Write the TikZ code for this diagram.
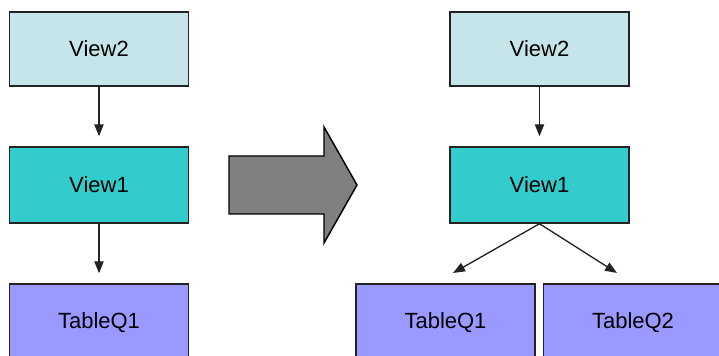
\documentclass[tikz,border=0pt]{standalone}
\usepackage{fontspec}
\setmainfont{Liberation Sans}
\usetikzlibrary{arrows.meta}
\definecolor{ViewTwoBlue}{RGB}{198,229,235}
\definecolor{ViewOneTeal}{RGB}{51,204,204}
\definecolor{TableViolet}{RGB}{153,153,255}
\definecolor{ShiftGray}{RGB}{128,128,128}
\definecolor{EdgeGray}{RGB}{35,35,35}
\begin{document}
\begin{tikzpicture}[x=.75pt,y=-.75pt,
  box/.style={draw=EdgeGray,line width=1.1pt,minimum width=134pt,inner sep=0pt,font=\fontsize{16.5}{19}\selectfont},
  link/.style={draw=EdgeGray,line width=1pt,-{Triangle[length=9pt,width=7pt]}}]
\useasboundingbox (0,0) rectangle (719,356);
\clip (0,0) rectangle (719,356);
\foreach \nm/\cx/\cy/\h/\col/\txt in {lvTwo/99/49/55.5/ViewTwoBlue/View2,lvOne/99/185/57/ViewOneTeal/View1,ltQ/99/323/58.5/TableViolet/TableQ1,
  rvTwo/539.5/49/55.5/ViewTwoBlue/View2,rvOne/539.5/185/57/ViewOneTeal/View1,rtQa/445.5/323/58.5/TableViolet/TableQ1,rtQb/633/323/58.5/TableViolet/TableQ2}
  {\node[box,fill=\col,minimum height=\h pt] (\nm) at (\cx,\cy) {\txt};}
\draw[link,shorten >=7.5pt] (lvTwo.south)--(lvOne.north);\draw[link,shorten >=7.5pt] (lvOne.south)--(ltQ.north);
\draw[link,shorten >=7.5pt] (rvTwo.south)--(rvOne.north);
\coordinate (tipA) at (453,273);\coordinate (tipB) at (617,273);
\draw[link] (rvOne.south)--(tipA);\draw[link] (rvOne.south)--(tipB);
% big shift arrow
\filldraw[fill=ShiftGray,draw=black,line width=1.1pt,line join=miter] (229,156)--(324,156)--(324,127)--(357,185)--(324,243)--(324,214)--(229,214)--cycle;
\end{tikzpicture}
\end{document}
